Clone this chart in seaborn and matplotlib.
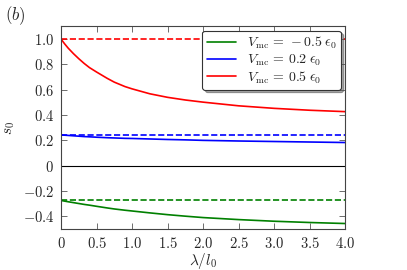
import numpy as np
import pandas as pd
import matplotlib
matplotlib.use("Agg")
import matplotlib.pyplot as plt
import seaborn as sns
from matplotlib.ticker import FuncFormatter, MultipleLocator

# lambda / l0 sample points
lam = [0.0, 0.05, 0.1, 0.175, 0.25, 0.325, 0.4, 0.5, 0.65, 0.75, 0.9, 1.0,
       1.25, 1.5, 1.75, 2.0, 2.5, 3.0, 3.5, 4.0]

# s0 curves
s_neg05 = [-0.275, -0.280, -0.285, -0.292, -0.299, -0.306, -0.312, -0.321, -0.334, -0.342,
           -0.352, -0.358, -0.373, -0.387, -0.399, -0.410, -0.426, -0.439, -0.449, -0.457]
s_02 = [0.243, 0.241, 0.239, 0.236, 0.233, 0.230, 0.228, 0.225, 0.221, 0.219,
        0.216, 0.215, 0.211, 0.207, 0.204, 0.200, 0.195, 0.191, 0.187, 0.183]
s_05 = [1.0, 0.963, 0.929, 0.885, 0.845, 0.808, 0.775, 0.740, 0.690, 0.660,
        0.625, 0.607, 0.568, 0.540, 0.519, 0.502, 0.473, 0.453, 0.438, 0.427]

# dashed reference levels (lambda = 0 values)
lvl_neg05 = -0.275
lvl_02 = 0.243
lvl_05 = 1.0

labels = [r"$V_{\rm mc}\,=\,-0.5\;\epsilon_0$",
          r"$V_{\rm mc}\,=\,0.2\;\epsilon_0$",
          r"$V_{\rm mc}\,=\,0.5\;\epsilon_0$"]
colors = ["green", "blue", "red"]

df = pd.DataFrame({
    "lam": lam * 3,
    "s0": s_neg05 + s_02 + s_05,
    "case": [labels[0]] * len(lam) + [labels[1]] * len(lam) + [labels[2]] * len(lam),
})
lvl = pd.DataFrame({
    "lam": [0.0, 4.0] * 3,
    "s0": [lvl_neg05] * 2 + [lvl_02] * 2 + [lvl_05] * 2,
    "case": [labels[0]] * 2 + [labels[1]] * 2 + [labels[2]] * 2,
})

sns.set_style("ticks")
plt.rcParams["font.family"] = ["DejaVu Serif"]
plt.rcParams["mathtext.fontset"] = "cm"
plt.rcParams["xtick.direction"] = "in"
plt.rcParams["ytick.direction"] = "in"

fig = plt.figure(figsize=(4.07, 2.70), dpi=100)
ax = fig.add_axes([0.150, 0.152, 0.698, 0.750])

pal = dict(zip(labels, colors))
sns.lineplot(data=df, x="lam", y="s0", hue="case", hue_order=labels,
             palette=pal, lw=1.2, ax=ax)
sns.lineplot(data=lvl, x="lam", y="s0", hue="case", hue_order=labels,
             palette=pal, lw=1.2, linestyle="--", legend=False, ax=ax)
ax.axhline(0, color="black", lw=0.8)

ax.set_xlim(0, 4)
ax.set_ylim(-0.5, 1.1)
ax.xaxis.set_major_locator(MultipleLocator(0.5))
ax.yaxis.set_major_locator(MultipleLocator(0.2))


def fmt(v, pos):
    if abs(v) < 1e-9:
        return r"$0$"
    return r"$%.1f$" % v


ax.xaxis.set_major_formatter(FuncFormatter(fmt))
ax.yaxis.set_major_formatter(FuncFormatter(fmt))
ax.tick_params(top=True, right=True, labelsize=10.5, length=4, width=0.6,
               color="#555555", pad=5)
for sp in ax.spines.values():
    sp.set_color("#444444")
    sp.set_linewidth(0.8)

ax.set_xlabel(r"$\lambda/l_0$", fontsize=11, labelpad=0)
ax.set_ylabel(r"$s_0$", fontsize=11, labelpad=4)

leg = ax.legend(loc="upper right", fontsize=10, fancybox=True, shadow=True,
                handlelength=2.1, borderaxespad=0.3, labelspacing=0.1,
                borderpad=0.3, framealpha=1, edgecolor="#333333")
leg.get_frame().set_linewidth(0.8)

fig.text(0.012, 0.925, r"$(b)$", fontsize=12)

fig.savefig("out.png", dpi=100)
